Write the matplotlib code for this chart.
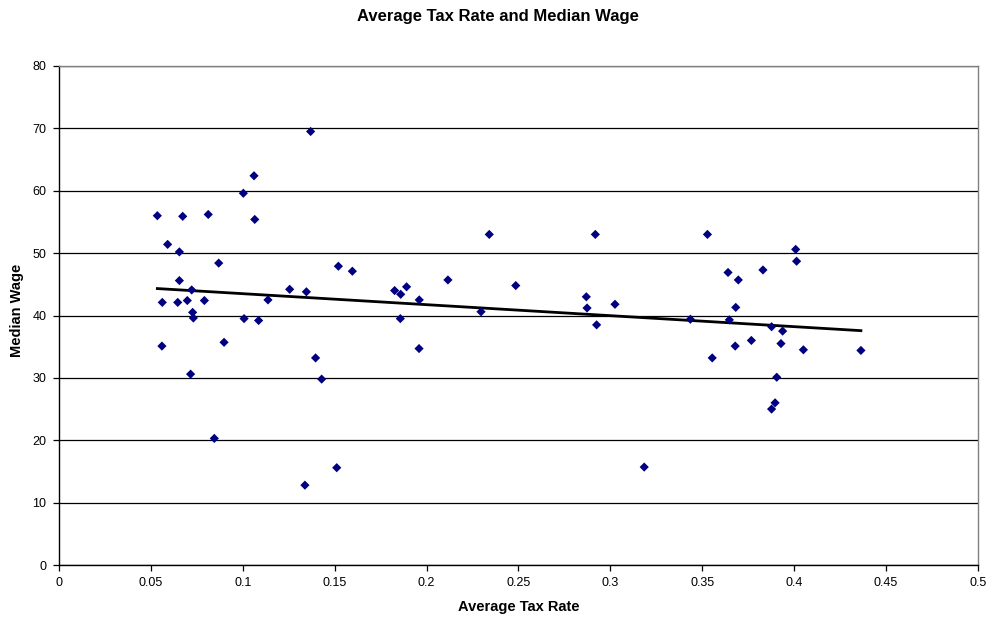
import numpy as np
import matplotlib
matplotlib.use("Agg")
import matplotlib.pyplot as plt

plt.rcParams['font.family'] = ['Liberation Sans', 'DejaVu Sans']

tax_rate = [
    0.0535, 0.0591, 0.0655, 0.0673, 0.0812, 0.0869, 0.1003, 0.1061, 0.1065, 0.1369,
    0.1520, 0.0655, 0.0722, 0.0562, 0.0646, 0.0698, 0.0791, 0.1137, 0.1255, 0.1346,
    0.0727, 0.0731, 0.1007, 0.1086, 0.0560, 0.0898, 0.1396, 0.0716, 0.1429, 0.0845,
    0.1511, 0.2341, 0.1596, 0.2116, 0.2485, 0.1826, 0.1859, 0.1891, 0.1960, 0.2296,
    0.1857, 0.1959, 0.1338, 0.2918, 0.3528, 0.3640, 0.3696, 0.2869, 0.2873, 0.3025,
    0.2925, 0.3435, 0.3647, 0.3682, 0.3679, 0.3554, 0.3184, 0.4008, 0.4013, 0.3830,
    0.3877, 0.3937, 0.3767, 0.3928, 0.4050, 0.4363, 0.3905, 0.3896, 0.3877,
]
median_wage = [
    56.0, 51.4, 50.2, 55.9, 56.2, 48.4, 59.6, 62.4, 55.4, 69.5,
    47.9, 45.6, 44.1, 42.1, 42.1, 42.4, 42.4, 42.5, 44.2, 43.8,
    40.5, 39.6, 39.5, 39.2, 35.1, 35.7, 33.2, 30.6, 29.8, 20.3,
    15.6, 53.0, 47.1, 45.7, 44.8, 44.0, 43.4, 44.6, 42.5, 40.6,
    39.5, 34.7, 12.8, 53.0, 53.0, 46.9, 45.7, 43.0, 41.2, 41.8,
    38.5, 39.4, 39.3, 41.3, 35.1, 33.2, 15.7, 50.6, 48.7, 47.3,
    38.2, 37.5, 36.0, 35.5, 34.5, 34.4, 30.1, 26.0, 25.0,
]
x_ticks = [0, 0.05, 0.1, 0.15, 0.2, 0.25, 0.3, 0.35, 0.4, 0.45, 0.5]
x_tick_labels = ["0", "0.05", "0.1", "0.15", "0.2", "0.25", "0.3", "0.35", "0.4", "0.45", "0.5"]
y_ticks = [0, 10, 20, 30, 40, 50, 60, 70, 80]

x = np.array(tax_rate)
y = np.array(median_wage)

fig = plt.figure(figsize=(9.95, 6.24), dpi=100)
ax = fig.add_axes([59/995, 1-565/624, (978-59)/995, (565-66)/624])

ax.set_xlim(0, 0.5)
ax.set_ylim(0, 80)
ax.set_yticks(y_ticks)
ax.set_xticks(x_ticks)
ax.set_xticklabels(x_tick_labels)
ax.yaxis.grid(True, color='black', linewidth=0.9)
ax.set_axisbelow(True)

for side in ['top', 'right']:
    ax.spines[side].set_color('#808080')
for side in ['left', 'bottom']:
    ax.spines[side].set_color('black')
for s in ax.spines.values():
    s.set_linewidth(1.0)

ax.tick_params(axis='both', direction='out', length=4, width=0.9,
               labelsize=9, colors='black', pad=5)

# linear trend line across the data range
slope, intercept = np.polyfit(x, y, 1)
xl = np.array([x.min(), x.max()])
ax.plot(xl, slope * xl + intercept, color='black', linewidth=2.0, zorder=2)

ax.scatter(x, y, marker='D', s=22, color='#000080', edgecolors='none', zorder=3)

fig.text(0.5, 1 - 16/624, "Average Tax Rate and Median Wage", ha='center', va='center',
         fontsize=12, fontweight='bold')
ax.set_xlabel("Average Tax Rate", fontsize=10.5, fontweight='bold')
ax.xaxis.set_label_coords(0.5, -(607 - 565) / 499)
ax.xaxis.label.set_va('center')
ax.set_ylabel("Median Wage", fontsize=10.5, fontweight='bold')
ax.yaxis.set_label_coords(-(59 - 17) / 919, (565 - 310) / 499)
ax.yaxis.label.set_va('center')

fig.savefig("out.png", dpi=100, facecolor='white')
